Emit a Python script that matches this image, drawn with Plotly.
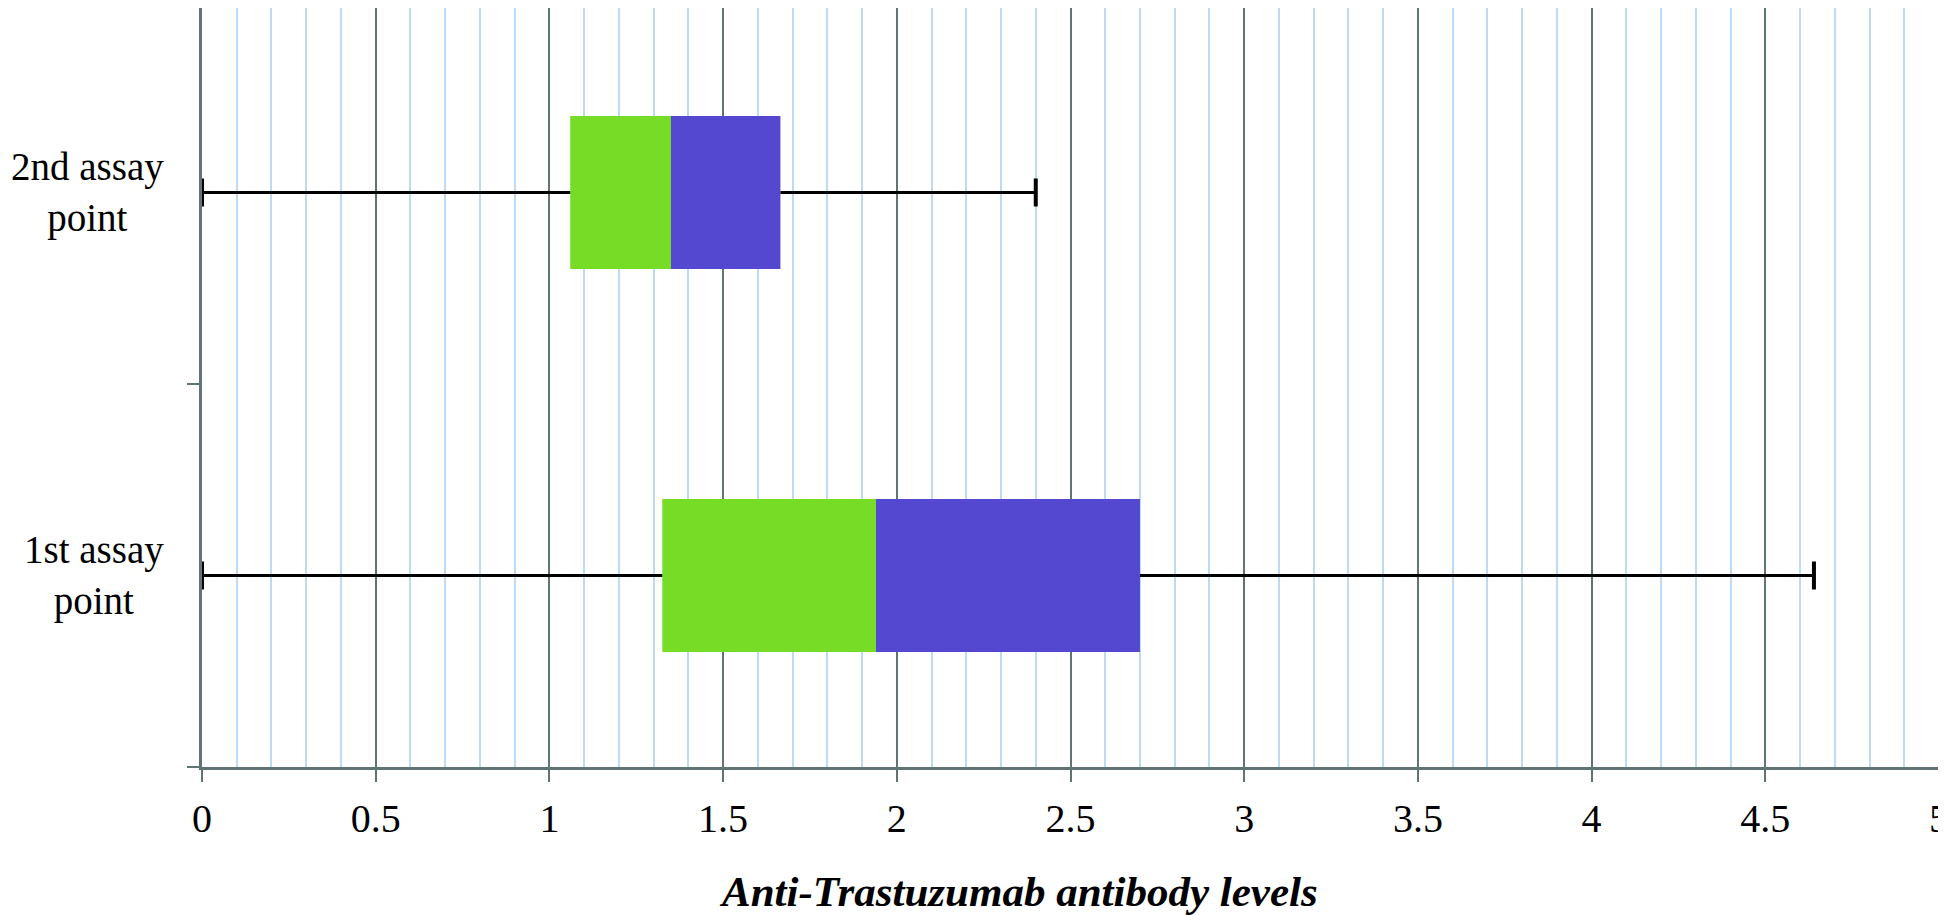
import plotly.graph_objects as go

# ---- data ----
categories = ["1st assay point", "2nd assay point"]
category_labels = ["1st assay<br>point", "2nd assay<br>point"]
whisker_min = [0.0, 0.0]
q1 = [1.325, 1.06]
median = [1.94, 1.35]
q3 = [2.70, 1.665]
whisker_max = [4.64, 2.40]

x_title = "Anti-Trastuzumab antibody levels"

GREEN = "#76dc26"
PURPLE = "#5548d0"
GRID = "#5f7473"
MINOR = "#bddcf4"
FONT = "Liberation Serif"

fig = go.Figure()

# lower box half (Q1 -> median)
fig.add_trace(go.Bar(
    y=categories, x=[m - a for m, a in zip(median, q1)], base=q1,
    orientation="h", width=0.4, marker=dict(color=GREEN, line=dict(width=0)),
    showlegend=False, hoverinfo="skip"))
# upper box half (median -> Q3)
fig.add_trace(go.Bar(
    y=categories, x=[b - m for b, m in zip(q3, median)], base=median,
    orientation="h", width=0.4, marker=dict(color=PURPLE, line=dict(width=0)),
    showlegend=False, hoverinfo="skip"))

# whisker lines
wx, wy = [], []
for c, lo, a, b, hi in zip(categories, whisker_min, q1, q3, whisker_max):
    wx += [lo, a, None, b, hi, None]
    wy += [c, c, None, c, c, None]
fig.add_trace(go.Scatter(
    x=wx, y=wy, mode="lines", line=dict(color="black", width=3),
    cliponaxis=False, showlegend=False, hoverinfo="skip"))
# whisker caps
cx, cy = [], []
for c, lo, hi in zip(categories, whisker_min, whisker_max):
    cx += [lo, hi]
    cy += [c, c]
fig.add_trace(go.Scatter(
    x=cx, y=cy, mode="markers",
    marker=dict(symbol="line-ns", size=20, line=dict(color="black", width=4)),
    cliponaxis=False, showlegend=False, hoverinfo="skip"))

# category labels (centered multi-line)
for c, lab in zip(categories, category_labels):
    fig.add_annotation(
        x=0, xref="paper", y=c, yref="y", xanchor="right", yanchor="middle",
        xshift=-36, yshift=0, text=lab, showarrow=False, align="center",
        font=dict(family=FONT, size=39, color="black"))

# x-axis title
fig.add_annotation(
    x=0.470, xref="paper", y=0, yref="paper", xanchor="center", yanchor="top",
    yshift=-99, text="<b><i>" + x_title + "</i></b>", showarrow=False,
    font=dict(family=FONT, size=43, color="black"))

# page body has an 8px margin, so the figure is sized/shifted to compensate
fig.update_layout(
    width=1938, height=907,
    margin=dict(l=194, r=7, t=0, b=148),
    paper_bgcolor="white", plot_bgcolor="white",
    barmode="overlay",
    font=dict(family=FONT, size=40, color="black"),
)
fig.update_xaxes(
    range=[0, 5], dtick=0.5, tick0=0,
    showgrid=True, gridcolor=GRID, gridwidth=2,
    minor=dict(dtick=0.1, showgrid=True, gridcolor=MINOR, gridwidth=2, ticks=""),
    ticks="outside", ticklen=12, tickwidth=2, tickcolor=GRID,
    showline=True, linecolor=GRID, linewidth=3,
    zeroline=False, ticklabelstandoff=2, automargin=False,
    ticklabeloverflow="allow",
    tickfont=dict(family=FONT, size=40, color="black"),
)
fig.update_yaxes(
    type="category", categoryorder="array", categoryarray=categories,
    range=[-0.5, 1.4817], tickson="boundaries",
    ticks="outside", ticklen=12, tickwidth=2, tickcolor=GRID,
    showline=True, linecolor=GRID, linewidth=3,
    showgrid=False, zeroline=False, showticklabels=False, automargin=False,
)

fig.write_html("out.html")
